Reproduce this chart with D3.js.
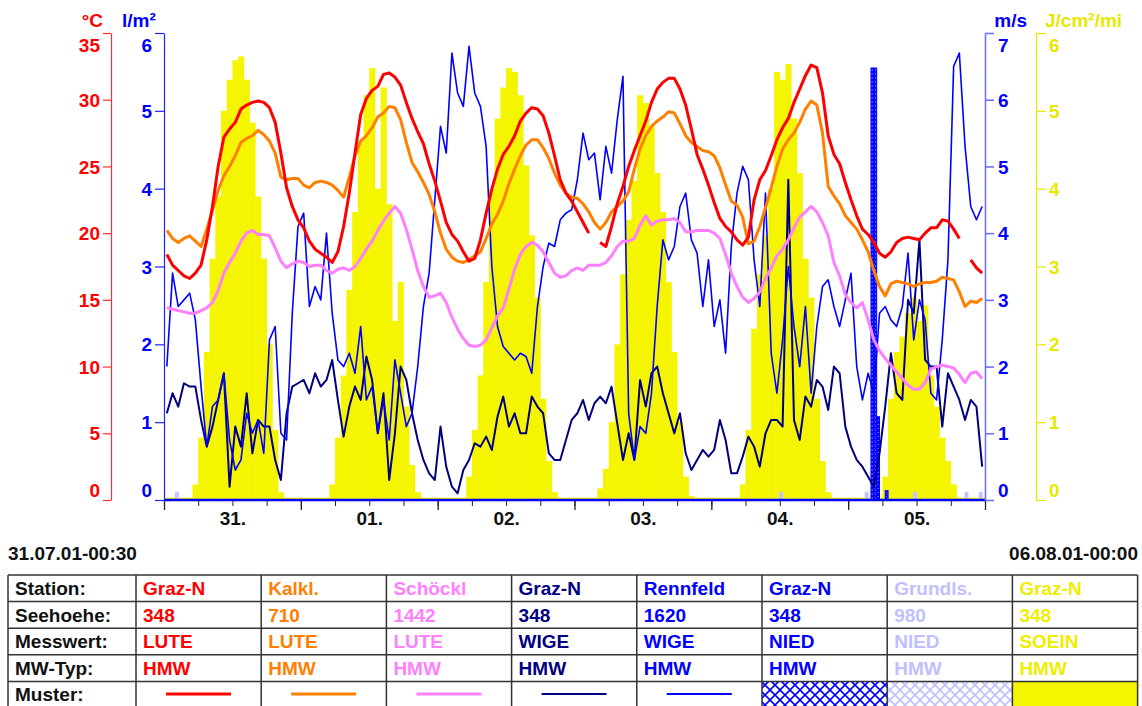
<!DOCTYPE html>
<html>
<head>
<meta charset="utf-8">
<script src="https://cdn.jsdelivr.net/npm/d3@7"></script>
<style>
  body { margin: 0; background: #fff; }
  svg { display: block; font-family: "Liberation Sans", Arial, sans-serif; font-weight: bold; }
</style>
</head>
<body>
<div id="chart"></div>
<script>
// Hourly means, index i = hour i..i+1 starting 31.07.01 00:00
const luteGrazN = [18.4,17.6,17.2,16.8,16.6,17.0,17.6,19.5,22.0,25.0,
  27.2,27.8,28.3,29.3,29.6,29.8,29.9,29.8,29.4,28.3,
  26.0,23.4,22.0,21.0,20.4,19.4,18.8,18.5,18.2,17.8,
  18.6,20.5,23.0,26.0,28.9,30.1,30.7,31.0,31.9,32.0,
  31.7,31.1,29.8,28.6,27.6,26.7,25.2,23.9,22.4,20.8,
  19.9,19.4,18.6,17.9,18.1,19.5,21.5,23.3,24.8,25.9,
  26.5,27.3,28.4,29.0,29.4,29.3,28.8,27.5,25.8,24.0,
  23.0,22.4,21.6,20.8,20.0,null,19.3,19.0,20.5,22.2,
  23.5,25.0,26.2,27.3,28.4,29.8,30.8,31.3,31.6,31.6,
  30.8,29.6,27.8,25.9,24.8,23.6,22.3,21.1,20.5,20.1,
  19.5,19.1,19.7,22.5,24.0,24.7,25.8,27.0,27.9,28.6,
  29.8,30.8,31.8,32.6,32.4,30.5,27.3,25.9,25.2,23.8,
  22.5,21.3,20.3,19.9,19.3,18.5,18.2,18.6,19.3,19.6,
  19.7,19.6,19.5,20.0,20.4,20.4,21.0,20.9,20.3,19.6,
  null,18.0,17.4,17.0];

const luteKalkl = [20.2,19.6,19.3,19.6,19.8,19.4,19.0,20.3,21.7,23.2,
  24.3,25.0,25.8,26.8,27.1,27.3,27.7,27.4,26.9,26.0,
  24.2,24.0,24.1,24.1,23.6,23.4,23.8,23.9,23.8,23.6,
  23.2,22.7,24.2,25.8,26.9,27.3,27.9,28.7,29.0,29.5,
  29.4,28.5,26.8,25.3,24.6,23.8,22.9,21.6,20.0,18.8,
  18.2,17.9,17.8,18.0,18.3,18.6,19.6,20.7,21.4,22.4,
  23.7,24.8,25.8,26.6,27.0,27.0,26.4,25.6,24.5,23.6,
  23.0,22.7,22.6,22.2,21.6,20.8,20.3,20.8,21.6,22.0,
  22.4,23.1,24.8,26.3,27.3,28.0,28.4,28.7,29.1,29.0,
  28.2,27.3,26.8,26.5,26.2,26.1,25.8,24.9,23.6,22.4,
  22.1,21.2,19.2,19.4,20.5,21.9,23.4,25.0,26.3,27.0,
  27.5,28.3,29.3,29.9,29.6,27.5,23.5,22.8,22.2,21.3,
  20.8,20.3,19.5,18.6,17.2,16.0,15.3,16.2,16.4,16.3,
  16.2,16.0,16.2,16.3,16.3,16.4,16.7,16.6,16.5,15.6,
  14.5,14.9,14.8,15.1];

const luteSchoeckl = [14.4,14.3,14.2,14.1,14.0,14.0,14.2,14.4,14.8,15.7,
  17.0,17.8,18.5,19.4,20.0,20.2,19.9,19.9,19.8,18.9,
  17.9,17.4,17.7,17.9,17.8,17.5,17.6,17.6,17.2,17.0,
  17.3,17.4,17.2,17.5,18.1,18.8,19.4,20.2,20.9,21.5,
  22.0,21.5,20.3,18.8,17.2,16.0,15.2,15.3,15.5,14.8,
  13.7,12.8,12.1,11.6,11.5,11.6,12.0,12.9,13.8,14.4,
  15.8,17.3,18.4,19.0,19.3,19.1,18.6,17.8,17.0,16.7,
  16.8,17.2,17.4,17.2,17.6,17.6,17.6,17.8,18.3,19.0,
  19.4,19.4,19.6,20.6,21.3,20.6,20.9,21.0,21.0,21.1,
  20.8,20.1,20.1,20.2,20.2,20.2,20.0,19.6,18.4,17.0,
  16.0,15.2,14.8,15.1,15.6,16.6,17.4,18.3,18.8,19.5,
  20.4,21.2,21.6,22.0,21.6,20.8,19.8,17.8,16.8,15.4,
  14.8,14.4,14.8,13.5,12.0,11.2,10.6,10.1,9.6,9.1,
  8.6,8.3,8.3,8.8,9.8,10.0,10.1,10.0,9.9,9.4,
  8.8,9.5,9.6,9.1];

const wigeGrazN = [1.3,1.6,1.4,1.75,1.7,1.7,1.2,0.8,1.1,1.5,
  1.9,0.2,1.1,0.8,1.6,0.7,1.2,1.1,1.1,0.6,
  0.3,1.3,1.7,1.75,1.8,1.6,1.9,1.7,1.8,2.1,
  1.5,0.95,1.4,1.7,1.5,2.15,1.8,1.0,1.6,0.3,
  1.0,2.0,1.8,1.3,0.9,0.6,0.4,0.3,1.1,0.5,
  0.2,0.1,0.45,0.6,0.85,0.8,0.95,0.75,1.25,1.55,
  1.1,1.3,1.0,1.0,1.55,1.4,1.3,0.7,0.6,0.6,
  0.9,1.2,1.3,1.5,1.2,1.45,1.55,1.45,1.7,1.15,
  0.6,1.0,0.6,1.8,1.4,1.9,2.0,1.6,1.3,1.0,
  1.3,0.7,0.45,0.6,0.75,0.65,0.75,1.2,0.9,0.4,
  0.4,0.65,0.95,0.8,0.5,1.0,1.2,1.2,1.1,4.8,
  1.2,0.9,1.55,1.4,1.8,1.7,1.35,2.0,1.9,1.1,
  0.8,0.6,0.5,0.35,0.2,0.7,1.4,2.2,1.6,1.5,
  3.0,2.8,3.9,2.1,2.0,2.0,1.1,1.9,1.7,1.5,
  1.2,1.5,1.4,0.5];

const wigeRennfeld = [2.0,3.4,2.9,3.0,3.1,2.7,1.7,0.8,1.4,1.5,
  1.9,0.9,0.45,0.6,1.3,1.0,1.2,0.7,2.4,2.6,
  1.0,0.9,2.8,4.1,4.3,2.9,3.2,3.0,4.0,2.8,
  2.1,2.0,2.2,1.9,2.6,1.5,1.7,1.0,1.5,0.9,
  2.1,1.6,1.1,1.3,2.0,2.9,3.4,4.5,5.6,5.2,
  6.7,6.1,5.9,6.8,6.1,5.9,5.3,3.5,2.6,2.3,
  2.2,2.1,2.2,2.15,1.9,2.9,3.5,3.85,3.8,4.2,
  4.3,4.35,4.8,5.5,5.1,5.2,4.5,5.3,4.9,5.7,
  6.35,1.3,0.6,1.1,1.0,1.6,2.9,3.9,3.6,3.8,
  4.4,4.6,3.9,3.7,2.9,3.6,2.6,3.0,2.2,3.8,
  4.6,5.0,4.8,3.6,2.9,4.6,2.2,1.6,2.4,3.5,
  2.6,2.0,2.9,1.6,2.6,3.2,3.3,2.9,2.6,3.0,
  3.4,2.0,1.5,1.9,1.6,2.8,2.9,2.7,2.6,2.9,
  3.7,2.4,3.0,2.7,1.6,1.5,2.4,3.6,6.5,6.7,
  5.3,4.4,4.2,4.4];

const soeinGrazN = [0.03,0.03,0.03,0.03,0.03,0.2,0.8,1.9,3.1,3.9,
  5.0,5.4,5.65,5.7,5.4,4.85,3.9,3.1,2.0,0.9,
  0.1,0.03,0.03,0.03,0.03,0.03,0.03,0.03,0.03,0.2,
  0.8,1.6,2.7,3.7,4.6,5.2,5.55,4.0,5.3,3.8,
  2.3,2.8,1.2,0.45,0.1,0.03,0.03,0.03,0.03,0.03,
  0.03,0.03,0.03,0.3,0.9,1.6,2.8,4.0,4.9,5.3,
  5.55,5.5,5.2,4.3,3.4,2.6,1.3,0.5,0.1,0.03,
  0.03,0.03,0.03,0.03,0.03,0.03,0.15,0.4,1.0,2.0,
  2.9,3.6,4.1,5.2,5.1,4.8,4.2,3.7,2.8,1.9,
  1.0,0.3,0.05,0.03,0.03,0.03,0.03,0.03,0.03,0.03,
  0.03,0.2,0.9,2.2,2.9,3.4,4.0,5.5,5.4,5.6,
  4.9,4.2,3.1,2.6,1.3,0.5,0.1,0.03,0.03,0.03,
  0.03,0.03,0.03,0.03,0.03,0.03,0.3,1.3,1.9,2.1,
  2.4,2.6,2.3,2.5,1.6,1.2,0.8,0.5,0.2,0.03,
  0.03,0.03,0.03,0.03];

// Precipitation, half-hour sums (only the non-zero intervals)
const niedGrazNStart = [124.0, 124.5, 125.0, 126.5];
const niedGrazNValue = [5.55, 5.55, 1.07, 0.12];
const niedGrundlStart = [2.0, 108.0, 123.0, 131.5, 140.5, 143.0];
const niedGrundlValue = [0.1, 0.1, 0.1, 0.1, 0.1, 0.1];

// Axis ticks
const tempTicks = [0, 5, 10, 15, 20, 25, 30, 35];
const rainTicks = [0, 1, 2, 3, 4, 5, 6];
const windTicks = [0, 1, 2, 3, 4, 5, 6, 7];
const sunTicks = [0, 1, 2, 3, 4, 5, 6];

// Legend table
const rowLabels = ['Station:', 'Seehoehe:', 'Messwert:', 'MW-Typ:', 'Muster:'];
const legStation = ['Graz-N', 'Kalkl.', 'Schöckl', 'Graz-N', 'Rennfeld', 'Graz-N', 'Grundls.', 'Graz-N'];
const legHeight = ['348', '710', '1442', '348', '1620', '348', '980', '348'];
const legMeasure = ['LUTE', 'LUTE', 'LUTE', 'WIGE', 'WIGE', 'NIED', 'NIED', 'SOEIN'];
const legType = ['HMW', 'HMW', 'HMW', 'HMW', 'HMW', 'HMW', 'HMW', 'HMW'];
const legColor = ['#ff0000', '#ff8000', '#ff80ff', '#000080', '#0000ff', '#0000ff', '#c0c0ff', '#eeee00'];
const legPattern = ['line', 'line', 'line', 'line', 'line', 'hatch', 'hatchLight', 'fill'];
const legLineWidth = [3, 3, 3, 2, 2, 0, 0, 0];

const HOUR = 3600 * 1000;
const t0 = Date.UTC(2001, 6, 31, 0, 0);
const tEnd = Date.UTC(2001, 7, 6, 0, 0);

const W = 1142, H = 706;
const plotTop = 33, base = 500;
const fontSize = '19px';

const svg = d3.select('#chart').append('svg')
  .attr('width', W)
  .attr('height', H);

const defs = svg.append('defs');
function addHatch(id, color, size) {
  const p = defs.append('pattern')
    .attr('id', id)
    .attr('patternUnits', 'userSpaceOnUse')
    .attr('width', size)
    .attr('height', size);
  p.append('rect').attr('width', size).attr('height', size).attr('fill', '#fff');
  p.append('path')
    .attr('d', `M-1,-1L${size + 1},${size + 1}M${size + 1},-1L-1,${size + 1}`)
    .attr('stroke', color)
    .attr('stroke-width', 1.6);
}
addHatch('hatchBlue', '#0000ff', 10);
addHatch('hatchLight', '#c0c0ff', 10);
addHatch('hatchBlueSmall', '#0000ff', 4);
addHatch('hatchLightSmall', '#c0c0ff', 4);

// Scales
const x = d3.scaleUtc().domain([new Date(t0), new Date(tEnd)]).range([164, 985]);
const yTemp = d3.scaleLinear().domain([0, 35]).range([base, plotTop]);
const yRain = d3.scaleLinear().domain([0, 6]).range([base, plotTop]);
const yWind = d3.scaleLinear().domain([0, 7]).range([base, plotTop]);
const ySun = d3.scaleLinear().domain([0, 6]).range([base, plotTop]);

const hourDate = h => new Date(t0 + h * HOUR);
const toPoints = arr => arr.map((v, i) => ({ t: hourDate(i + 0.5), v: v }));

// Sunshine bars
svg.append('g')
  .selectAll('rect')
  .data(soeinGrazN)
  .enter()
  .append('rect')
  .attr('x', (d, i) => x(hourDate(i)))
  .attr('width', (d, i) => x(hourDate(i + 1)) - x(hourDate(i)) + 0.4)
  .attr('y', d => ySun(d))
  .attr('height', d => base - ySun(d))
  .attr('fill', '#f5f500');

// Precipitation bars
svg.append('g')
  .selectAll('rect')
  .data(niedGrundlStart)
  .enter()
  .append('rect')
  .attr('x', d => x(hourDate(d)))
  .attr('width', d => x(hourDate(d + 0.5)) - x(hourDate(d)))
  .attr('y', (d, i) => yRain(niedGrundlValue[i]))
  .attr('height', (d, i) => base - yRain(niedGrundlValue[i]))
  .attr('fill', 'url(#hatchLightSmall)')
  .attr('stroke', '#c0c0ff')
  .attr('stroke-width', 1);

svg.append('g')
  .selectAll('rect')
  .data(niedGrazNStart)
  .enter()
  .append('rect')
  .attr('x', d => x(hourDate(d)))
  .attr('width', d => x(hourDate(d + 0.5)) - x(hourDate(d)))
  .attr('y', (d, i) => yRain(niedGrazNValue[i]))
  .attr('height', (d, i) => base - yRain(niedGrazNValue[i]))
  .attr('fill', 'url(#hatchBlueSmall)')
  .attr('stroke', '#0000ff')
  .attr('stroke-width', 1);

// Base line
svg.append('line')
  .attr('x1', 164).attr('x2', 985)
  .attr('y1', base).attr('y2', base)
  .attr('stroke', '#0000ff')
  .attr('stroke-width', 2.5);

// Lines
function drawLine(values, scale, color, width) {
  const line = d3.line()
    .defined(d => d.v !== null)
    .x(d => x(d.t))
    .y(d => scale(d.v));
  svg.append('path')
    .datum(toPoints(values))
    .attr('fill', 'none')
    .attr('stroke', color)
    .attr('stroke-width', width)
    .attr('stroke-linejoin', 'round')
    .attr('d', line);
}
drawLine(wigeGrazN, yWind, '#000080', 2);
drawLine(wigeRennfeld, yWind, '#0000ff', 1.6);
drawLine(luteSchoeckl, yTemp, '#ff80ff', 3);
drawLine(luteKalkl, yTemp, '#ff8000', 3);
drawLine(luteGrazN, yTemp, '#ff0000', 3);

// Y axes
function styleAxis(g, textColor, lineColor, lineWidth, maxVal) {
  g.attr('font-family', null).attr('font-size', null);
  g.select('.domain').attr('stroke', lineColor).attr('stroke-width', lineWidth);
  g.selectAll('.tick line').attr('stroke', lineColor).attr('stroke-width', lineWidth);
  g.selectAll('.tick text')
    .attr('fill', textColor)
    .style('font-size', fontSize)
    .style('font-weight', 'bold')
    .attr('dy', d => d === maxVal ? '0.98em' : (d === 0 ? '-0.2em' : '0.35em'));
}

const intFmt = d3.format('d');

svg.append('g')
  .attr('transform', 'translate(111,0)')
  .call(d3.axisLeft(yTemp).tickValues(tempTicks).tickFormat(intFmt).tickSize(8).tickSizeOuter(0).tickPadding(3))
  .call(g => styleAxis(g, '#ff0000', '#ff3030', 1.2, 35));

svg.append('g')
  .attr('transform', 'translate(164,0)')
  .call(d3.axisLeft(yRain).tickValues(rainTicks).tickFormat(intFmt).tickSize(9).tickSizeOuter(0).tickPadding(3))
  .call(g => styleAxis(g, '#0000ff', '#2020ff', 1.2, 6));

svg.append('g')
  .attr('transform', 'translate(985,0)')
  .call(d3.axisRight(yWind).tickValues(windTicks).tickFormat(intFmt).tickSize(9).tickSizeOuter(0).tickPadding(4))
  .call(g => styleAxis(g, '#0000ff', '#7070ff', 1.6, 7));

svg.append('g')
  .attr('transform', 'translate(1036,0)')
  .call(d3.axisRight(ySun).tickValues(sunTicks).tickFormat(intFmt).tickSize(10).tickSizeOuter(0).tickPadding(3))
  .call(g => styleAxis(g, '#e8e800', '#e8e800', 1.2, 6));

// Unit labels
const units = [
  { text: '°C', x: 103, anchor: 'end', color: '#ff0000' },
  { text: 'l/m²', x: 122, anchor: 'start', color: '#0000ff' },
  { text: 'm/s', x: 1027, anchor: 'end', color: '#0000ff' },
  { text: 'J/cm²/mi', x: 1045, anchor: 'start', color: '#e8e800' }
];
svg.selectAll('.unit')
  .data(units)
  .enter()
  .append('text')
  .attr('class', 'unit')
  .attr('x', d => d.x)
  .attr('y', 27)
  .attr('text-anchor', d => d.anchor)
  .attr('fill', d => d.color)
  .style('font-size', fontSize)
  .text(d => d.text);

// X axis
const xAxisG = svg.append('g').attr('transform', `translate(0,${base + 1})`);
xAxisG.append('g')
  .call(d3.axisBottom(x).ticks(d3.utcHour.every(6)).tickSize(5).tickFormat(''))
  .call(g => g.select('.domain').remove())
  .call(g => g.selectAll('.tick line').attr('stroke', '#222'));
xAxisG.append('g')
  .call(d3.axisBottom(x).ticks(d3.utcDay.every(1)).tickSize(9).tickFormat(''))
  .call(g => g.select('.domain').remove())
  .call(g => g.selectAll('.tick line').attr('stroke', '#222').attr('stroke-width', 1.3));

const noons = d3.utcDay.range(new Date(t0), new Date(tEnd)).map(d => d3.utcHour.offset(d, 12));
xAxisG.append('g')
  .call(d3.axisBottom(x).tickValues(noons).tickSize(0).tickPadding(11).tickFormat(d3.utcFormat('%d.')))
  .call(g => g.select('.domain').remove())
  .call(g => g.attr('font-family', null).attr('font-size', null))
  .call(g => g.selectAll('text').attr('fill', '#111').style('font-size', fontSize).style('font-weight', 'bold'));

// Period labels
svg.append('text')
  .attr('x', 8).attr('y', 560)
  .attr('fill', '#111')
  .style('font-size', fontSize)
  .text(d3.utcFormat('%d.%m.%y-%H:%M')(new Date(t0 + 0.5 * HOUR)));
svg.append('text')
  .attr('x', 1138).attr('y', 560)
  .attr('text-anchor', 'end')
  .attr('fill', '#111')
  .style('font-size', fontSize)
  .text(d3.utcFormat('%d.%m.%y-%H:%M')(new Date(tEnd)));

// Legend table
const tableX = 8, tableY = 575, firstColW = 128, colW = 125.2, rowH = 26.6;
const table = svg.append('g');
const rows = [legStation, legHeight, legMeasure, legType];

rowLabels.forEach((label, r) => {
  table.append('text')
    .attr('x', tableX + 7)
    .attr('y', tableY + r * rowH + 20)
    .attr('fill', '#111')
    .style('font-size', fontSize)
    .text(label);
});

legStation.forEach((s, c) => {
  const cx = tableX + firstColW + c * colW;
  rows.forEach((row, r) => {
    table.append('text')
      .attr('x', cx + 7)
      .attr('y', tableY + r * rowH + 20)
      .attr('fill', legColor[c])
      .style('font-size', fontSize)
      .text(row[c]);
  });
  const my = tableY + 4 * rowH;
  if (legPattern[c] === 'line') {
    table.append('line')
      .attr('x1', cx + 30).attr('x2', cx + 95)
      .attr('y1', my + 12.5).attr('y2', my + 12.5)
      .attr('stroke', legColor[c])
      .attr('stroke-width', legLineWidth[c]);
  } else {
    const fill = legPattern[c] === 'hatch' ? 'url(#hatchBlue)'
      : legPattern[c] === 'hatchLight' ? 'url(#hatchLight)' : '#f5f500';
    table.append('rect')
      .attr('x', cx).attr('y', my)
      .attr('width', colW).attr('height', rowH + 2)
      .attr('fill', fill);
  }
});

// Table grid
const tableW = firstColW + legStation.length * colW;
for (let r = 0; r <= 5; r++) {
  table.append('line')
    .attr('x1', tableX).attr('x2', tableX + tableW)
    .attr('y1', tableY + r * rowH).attr('y2', tableY + r * rowH)
    .attr('stroke', '#333').attr('stroke-width', 1.5);
}
const colEdges = [tableX].concat(d3.range(legStation.length + 1).map(c => tableX + firstColW + c * colW));
colEdges.forEach(cx => {
  table.append('line')
    .attr('x1', cx).attr('x2', cx)
    .attr('y1', tableY).attr('y2', tableY + 5 * rowH)
    .attr('stroke', '#333').attr('stroke-width', 1.5);
});
</script>
</body>
</html>
